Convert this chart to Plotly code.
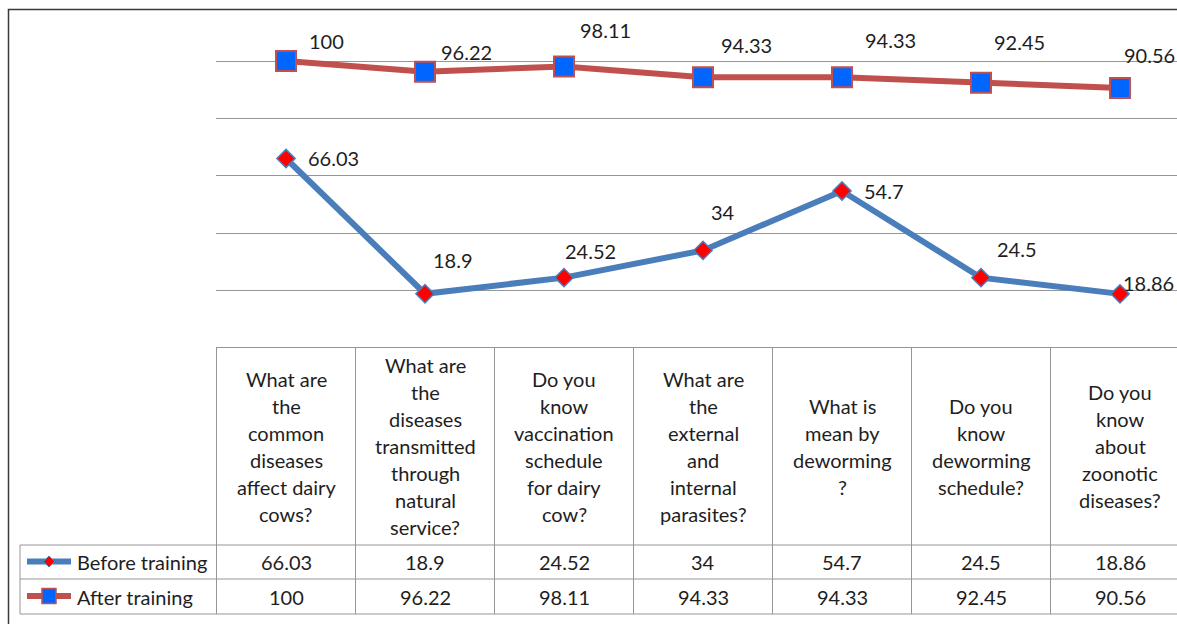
import plotly.graph_objects as go

# ---------------- data ----------------
categories = [
    "What are\nthe\ncommon\ndiseases\naffect dairy\ncows?",
    "What are\nthe\ndiseases\ntransmitted\nthrough\nnatural\nservice?",
    "Do you\nknow\nvaccination\nschedule\nfor dairy\ncow?",
    "What are\nthe\nexternal\nand\ninternal\nparasites?",
    "What is\nmean by\ndeworming\n?",
    "Do you\nknow\ndeworming\nschedule?",
    "Do you\nknow\nabout\nzoonotic\ndiseases?",
]
before_training = [66.03, 18.9, 24.52, 34, 54.7, 24.5, 18.86]
after_training = [100, 96.22, 98.11, 94.33, 94.33, 92.45, 90.56]
series_names = ["Before training", "After training"]

# data-label offsets in pixels (xshift, yshift)
before_label_offsets = [(47, 0), (28, 34), (26, 27), (20, 38), (42, 0), (36, 29), (28, 11)]
after_label_offsets = [(40, 20), (41, 20), (41, 36), (43, 32), (48, 37), (38, 41), (29, 33)]

# ---------------- layout geometry ----------------
W, H = 1177, 624
ML, MT, MB = 216, 9, 276
PLOT_W = W - ML
PLOT_BOTTOM = H - MB
PLOT_H = PLOT_BOTTOM - MT
COL_W = 139.0
FIRST_X = 286.0

def xp(px):
    return (px - ML) / PLOT_W

def yp(py):
    return (PLOT_BOTTOM - py) / PLOT_H

FONT = "Lato"
FS = 20
TXT = "#1e1e1e"
BLUE = "#4A7EBB"
RED = "#C0504D"
GRID = "#969696"

n = len(categories)
xs = list(range(n))

fig = go.Figure()
fig.add_trace(go.Scatter(
    x=xs, y=before_training, mode="lines+markers", name=series_names[0],
    line=dict(color=BLUE, width=6),
    marker=dict(symbol="diamond", size=14, color="#FF0000", line=dict(color=BLUE, width=1.5)),
    cliponaxis=False, showlegend=False, hoverinfo="x+y"))
fig.add_trace(go.Scatter(
    x=xs, y=after_training, mode="lines+markers", name=series_names[1],
    line=dict(color=RED, width=6),
    marker=dict(symbol="square", size=20, color="#0066FF", line=dict(color=RED, width=2)),
    cliponaxis=False, showlegend=False, hoverinfo="x+y"))

ann = []
# data labels
for vals, offs in ((before_training, before_label_offsets), (after_training, after_label_offsets)):
    for i, (v, (dx, dy)) in enumerate(zip(vals, offs)):
        ann.append(dict(x=i, y=v, xref="x", yref="y", text=f"{v:g}", showarrow=False,
                        xshift=dx, yshift=dy, font=dict(family=FONT, size=FS, color=TXT)))

# header texts (one annotation per line for exact leading)
HEAD_TOP, HEAD_BOT = 347.5, 545
ROW1_BOT, ROW2_BOT = 579, 614
LEAD = 27
head_mid = (HEAD_TOP + HEAD_BOT) / 2
for i, cat in enumerate(categories):
    lines = cat.split("\n")
    for k, line in enumerate(lines):
        py = head_mid + (k - (len(lines) - 1) / 2) * LEAD
        ann.append(dict(x=i, y=yp(py), xref="x", yref="paper", text=line, showarrow=False,
                        yanchor="middle", font=dict(family=FONT, size=FS, color=TXT)))

# value rows
row_mids = [(HEAD_BOT + ROW1_BOT) / 2, (ROW1_BOT + ROW2_BOT) / 2]
for vals, py in zip((before_training, after_training), row_mids):
    for i, v in enumerate(vals):
        ann.append(dict(x=i, y=yp(py), xref="x", yref="paper", text=f"{v:g}", showarrow=False,
                        yanchor="middle", font=dict(family=FONT, size=FS, color=TXT)))
# legend texts
for name, py in zip(series_names, row_mids):
    ann.append(dict(x=xp(75), y=yp(py), xref="paper", yref="paper", text=name, showarrow=False,
                    xanchor="left", yanchor="middle", font=dict(family=FONT, size=FS, color=TXT)))

shapes = []
line_style = dict(color=GRID, width=1)
# column lines
for i in range(n + 1):
    shapes.append(dict(type="line", xref="x", yref="paper", x0=i - 0.5, x1=i - 0.5,
                       y0=yp(HEAD_TOP), y1=yp(ROW2_BOT), line=line_style))
# left legend column border
shapes.append(dict(type="line", xref="paper", yref="paper", x0=xp(20), x1=xp(20),
                   y0=yp(HEAD_BOT), y1=yp(ROW2_BOT), line=line_style))
# horizontal lines
shapes.append(dict(type="line", xref="paper", yref="paper", x0=0, x1=1.02,
                   y0=yp(HEAD_TOP), y1=yp(HEAD_TOP), line=line_style))
for py in (HEAD_BOT, ROW1_BOT, ROW2_BOT):
    shapes.append(dict(type="line", xref="paper", yref="paper", x0=xp(20), x1=1.02,
                       y0=yp(py), y1=yp(py), line=line_style))

# legend keys
for color, py in ((BLUE, row_mids[0] - 0.5), (RED, row_mids[1] - 0.5)):
    shapes.append(dict(type="line", xref="paper", yref="paper", x0=xp(27), x1=xp(71),
                       y0=yp(py), y1=yp(py), line=dict(color=color, width=6)))
cx, cy, hw = 49, row_mids[0] - 0.5, 5.5
shapes.append(dict(type="path", xref="paper", yref="paper",
                   path=f"M {xp(cx - hw)},{yp(cy)} L {xp(cx)},{yp(cy - hw)} L {xp(cx + hw)},{yp(cy)} L {xp(cx)},{yp(cy + hw)} Z",
                   fillcolor="#FF0000", line=dict(color=BLUE, width=1)))
cy2 = row_mids[1] - 0.5
shapes.append(dict(type="rect", xref="paper", yref="paper", x0=xp(42), x1=xp(56),
                   y0=yp(cy2 - 7.5), y1=yp(cy2 + 7.5),
                   fillcolor="#0066FF", line=dict(color=RED, width=1.5)))

# outer chart border
shapes.append(dict(type="rect", xref="paper", yref="paper", x0=xp(8.5), x1=xp(1200),
                   y0=yp(9.5), y1=yp(660), line=dict(color="#3a3a3a", width=1.5),
                   fillcolor="rgba(0,0,0,0)", layer="above"))

px_per_unit = (PLOT_BOTTOM - 61) / 100.0
ymax = 100 + (61 - MT) / px_per_unit
xmin = (ML - FIRST_X) / COL_W
xmax = (W - FIRST_X) / COL_W

fig.update_layout(
    width=W, height=H,
    margin=dict(l=ML, r=0, t=MT, b=MB, pad=0),
    paper_bgcolor="white", plot_bgcolor="white",
    xaxis=dict(range=[xmin, xmax], showgrid=False, zeroline=False, showticklabels=False,
               showline=False, ticks=""),
    yaxis=dict(range=[0, ymax], dtick=20, tick0=0, showgrid=True, gridcolor=GRID, gridwidth=1,
               zeroline=False, showticklabels=False, showline=False, ticks=""),
    annotations=ann, shapes=shapes, showlegend=False,
)

fig.write_html("out.html", config={"displayModeBar": False},
               post_script="document.body.style.margin='0';document.body.style.padding='0';document.body.style.overflow='hidden';")
